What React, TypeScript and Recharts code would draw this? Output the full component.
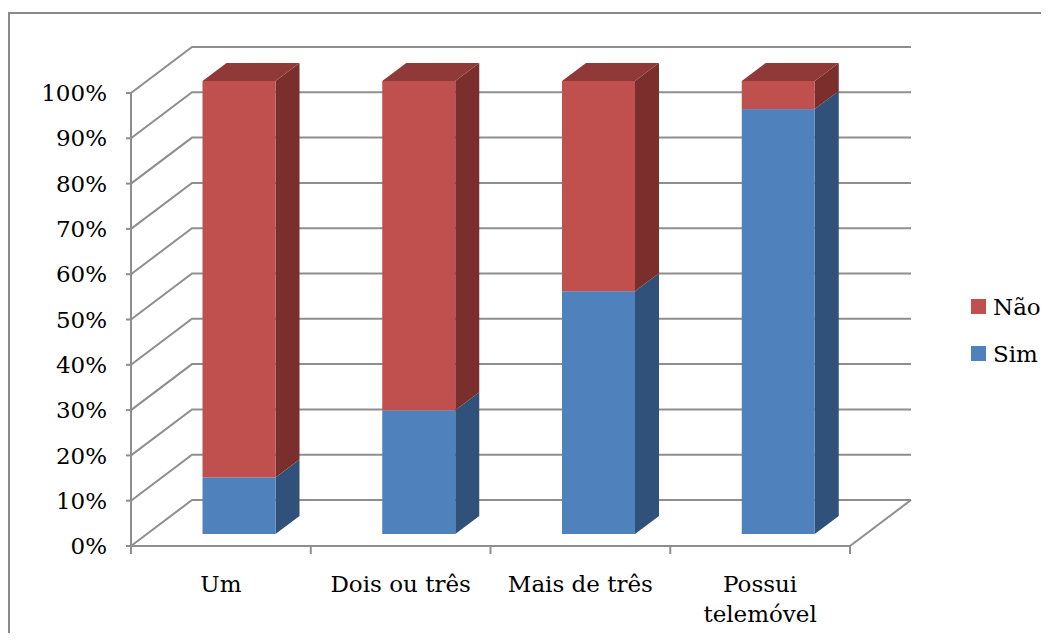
import { BarChart, Bar, XAxis, YAxis, CartesianGrid } from 'recharts';

const CATEGORIES = ['Um', 'Dois ou três', 'Mais de três', 'Possui telemóvel'];
const SIM = [12.5, 27.3, 53.6, 93.8];
const NAO = [87.5, 72.7, 46.4, 6.2];
const Y_TICKS = [0, 0.1, 0.2, 0.3, 0.4, 0.5, 0.6, 0.7, 0.8, 0.9, 1];

const data = CATEGORIES.map((name, i) => ({ name, sim: SIM[i], nao: NAO[i] }));

const FONT = '"DejaVu Serif", serif';
const FONT_SIZE = 23;
const GRID = '#8e8e8e';

// chart size and the front plane of the plot
const W = 1041;
const H = 633;
const PLOT = { left: 123, right: 842, top: 85, bottom: 538 };
const Y_AXIS_W = 60;
const X_AXIS_H = 60;

// oblique projection: back wall offset and bar depth
const WALL_DX = 61;
const WALL_DY = -46;
const FACE_DX = 18.5;
const FACE_DY = -12;
const DEPTH_DX = 24;
const DEPTH_DY = -18;

const SERIES = [
  { key: 'sim', name: 'Sim', front: '#4f81bd', side: '#30517a', top: '#3c6596' },
  { key: 'nao', name: 'Não', front: '#c0504d', side: '#7b2f2d', top: '#8f3a38' },
];

// greedy word wrap for category labels
function wrapLabel(label: string, maxChars = 13) {
  const lines: string[] = [];
  let cur = '';
  for (const word of label.split(' ')) {
    const next = cur ? `${cur} ${word}` : word;
    if (next.length > maxChars && cur) {
      lines.push(cur);
      cur = word;
    } else {
      cur = next;
    }
  }
  if (cur) lines.push(cur);
  return lines;
}

function Prism(props: any) {
  const { x, y, width, height, colors, showTop } = props;
  if (!height || height <= 0) return null;
  const fx = x + FACE_DX;
  const fy = y + FACE_DY;
  const r = fx + width;
  const b = fy + height;
  return (
    <g>
      <polygon
        points={`${r},${fy} ${r + DEPTH_DX},${fy + DEPTH_DY} ${r + DEPTH_DX},${b + DEPTH_DY} ${r},${b}`}
        fill={colors.side}
      />
      {showTop && (
        <polygon
          points={`${fx},${fy} ${fx + DEPTH_DX},${fy + DEPTH_DY} ${r + DEPTH_DX},${fy + DEPTH_DY} ${r},${fy}`}
          fill={colors.top}
        />
      )}
      <rect x={fx} y={fy} width={width} height={height} fill={colors.front} />
    </g>
  );
}

// each horizontal grid line runs up the left wall and along the back wall
function WallLine(p: any) {
  const y = p.y1;
  const isFloor = Math.abs(y - PLOT.bottom) < 1;
  return (
    <g key={p.key}>
      <polyline
        points={`${PLOT.left},${y} ${PLOT.left + WALL_DX},${y + WALL_DY} ${PLOT.right + WALL_DX},${y + WALL_DY}`}
        fill="none"
        stroke={GRID}
        strokeWidth={2}
      />
      {isFloor && (
        <line
          x1={PLOT.right}
          y1={y}
          x2={PLOT.right + WALL_DX}
          y2={y + WALL_DY}
          stroke={GRID}
          strokeWidth={2}
        />
      )}
    </g>
  );
}

function CategoryTick(props: any) {
  const { x, payload, index } = props;
  const band = (PLOT.right - PLOT.left) / CATEGORIES.length;
  const left = x - band / 2;
  const lines = wrapLabel(String(payload.value));
  return (
    <g>
      <line x1={left} y1={PLOT.bottom} x2={left} y2={PLOT.bottom + 8} stroke={GRID} strokeWidth={2} />
      {index === CATEGORIES.length - 1 && (
        <line
          x1={left + band}
          y1={PLOT.bottom}
          x2={left + band}
          y2={PLOT.bottom + 8}
          stroke={GRID}
          strokeWidth={2}
        />
      )}
      <text x={x} y={PLOT.bottom + 46} textAnchor="middle" fontFamily={FONT} fontSize={FONT_SIZE} fill="#000">
        {lines.map((line, i) => (
          <tspan key={i} x={x} dy={i === 0 ? 0 : 30}>
            {line}
          </tspan>
        ))}
      </text>
    </g>
  );
}

export default function App() {
  return (
    <div
      style={{
        position: 'relative',
        width: W,
        height: H,
        marginBottom: -8,
        overflow: 'hidden',
        background: '#fff',
      }}
    >
      <div
        style={{
          position: 'absolute',
          left: 0,
          top: 4,
          width: 1100,
          height: 700,
          border: '2px solid #8a8a8a',
        }}
      />
      <div style={{ position: 'absolute', left: 0, top: 0 }}>
        <BarChart
          width={W}
          height={H}
          data={data}
          stackOffset="expand"
          barSize={73}
          margin={{
            top: PLOT.top,
            right: W - PLOT.right,
            bottom: H - PLOT.bottom - X_AXIS_H,
            left: PLOT.left - Y_AXIS_W,
          }}
        >
          <CartesianGrid vertical={false} horizontal={WallLine} />
          <XAxis
            dataKey="name"
            height={X_AXIS_H}
            axisLine={{ stroke: GRID, strokeWidth: 2 }}
            tickLine={false}
            tick={CategoryTick}
            interval={0}
          />
          <YAxis
            width={Y_AXIS_W}
            domain={[0, 1]}
            ticks={Y_TICKS}
            tickFormatter={(v: number) => `${Math.round(v * 100)}%`}
            axisLine={{ stroke: GRID, strokeWidth: 2 }}
            tickLine={{ stroke: GRID, strokeWidth: 2 }}
            tickSize={5}
            tickMargin={19}
            tick={{ fontFamily: FONT, fontSize: FONT_SIZE, fill: '#000' }}
          />
          {SERIES.map((s, i) => (
            <Bar
              key={s.key}
              dataKey={s.key}
              name={s.name}
              stackId="a"
              isAnimationActive={false}
              shape={(p: any) => <Prism {...p} colors={s} showTop={i === SERIES.length - 1} />}
            />
          ))}
        </BarChart>
      </div>
      {/* legend, listed top-down in reverse stacking order */}
      <div style={{ position: 'absolute', left: 963, top: 283, fontFamily: FONT, fontSize: FONT_SIZE }}>
        {[...SERIES].reverse().map((s) => (
          <div key={s.key} style={{ display: 'flex', alignItems: 'center', height: 31, marginBottom: 16 }}>
            <span style={{ display: 'inline-block', width: 15, height: 15, background: s.front, marginRight: 7 }} />
            <span>{s.name}</span>
          </div>
        ))}
      </div>
    </div>
  );
}
